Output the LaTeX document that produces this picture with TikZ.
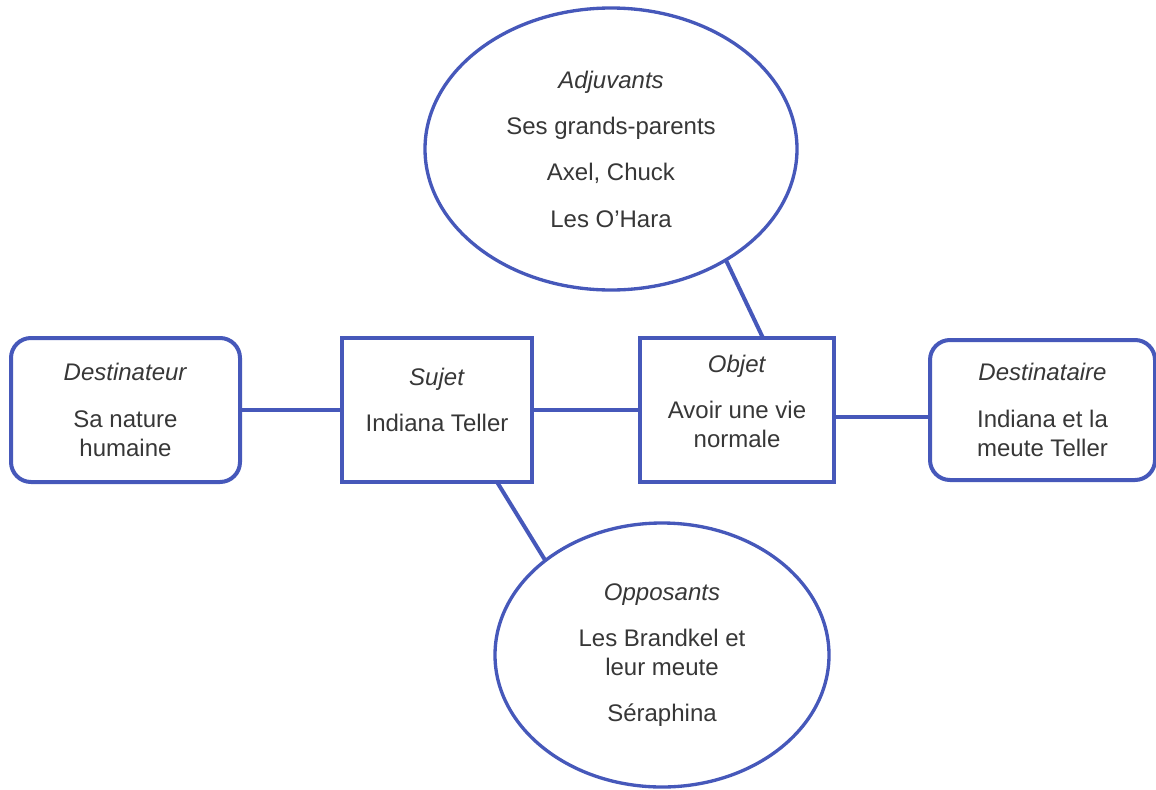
\documentclass[tikz,border=0pt]{standalone}
\usepackage{fontspec}
\setmainfont{Liberation Sans}
\usetikzlibrary{positioning,shapes.geometric}
\definecolor{cadre}{RGB}{70,88,186}
\definecolor{texte}{RGB}{55,55,55}
\tikzset{
  actant/.style={draw=cadre, line width=3pt, outer sep=0pt, text=texte, align=center, minimum height=108pt, font=\fontsize{18}{21.75}\selectfont},
  arrondi/.style={actant, rounded corners=15pt},
  bulle/.style={draw=cadre, line width=2.5pt, shape=ellipse, outer sep=0pt, inner sep=0pt, text=texte, align=center, font=\fontsize{18}{21.75}\selectfont},
  lien/.style={draw=cadre, line width=3pt}
}
\begin{document}
\begin{tikzpicture}[x=0.75pt, y=-0.75pt]
    \useasboundingbox (0,0) rectangle (1156,789);
    \node[actant, minimum width=142.5pt, text depth=15pt] (sujet) at (437,410) {\textit{Sujet}\\[13pt]Indiana Teller};
    \node[arrondi, minimum width=171.75pt] (destinateur) [left=76.5pt of sujet] {\textit{Destinateur}\\[13pt]Sa nature\\humaine};
    \node[actant, minimum width=145.5pt, text depth=13.5pt] (objet) [right=81pt of sujet] {\textit{Objet}\\[13pt]Avoir une vie\\normale};
    \node[arrondi, minimum width=168.75pt, minimum height=105pt] (destinataire) [right=72pt of objet] {\textit{Destinataire}\\[13pt]Indiana et la\\meute Teller};
    \node[bulle, minimum width=279pt, minimum height=211.5pt] (adjuvants) at (611,149) {\textit{Adjuvants}\\[13pt]Ses grands-parents\\[13pt]Axel, Chuck\\[13pt]Les O'Hara};
    \node[bulle, minimum width=250.5pt, minimum height=198pt] (opposants) at (662,655) {\textit{Opposants}\\[13pt]Les Brandkel et\\leur meute\\[13pt]Séraphina};
    \draw[lien] (destinateur) -- (sujet);
    \draw[lien] (sujet.east) -- (objet.west);
    \draw[lien] ([yshift=-5pt]objet.east) -- ([yshift=-5pt]destinataire.west);
    \draw[lien] (adjuvants.-44) -- ([xshift=19.5pt]objet.north);
    \draw[lien] ([xshift=45pt]sujet.south) -- (opposants.141);
\end{tikzpicture}
\end{document}
